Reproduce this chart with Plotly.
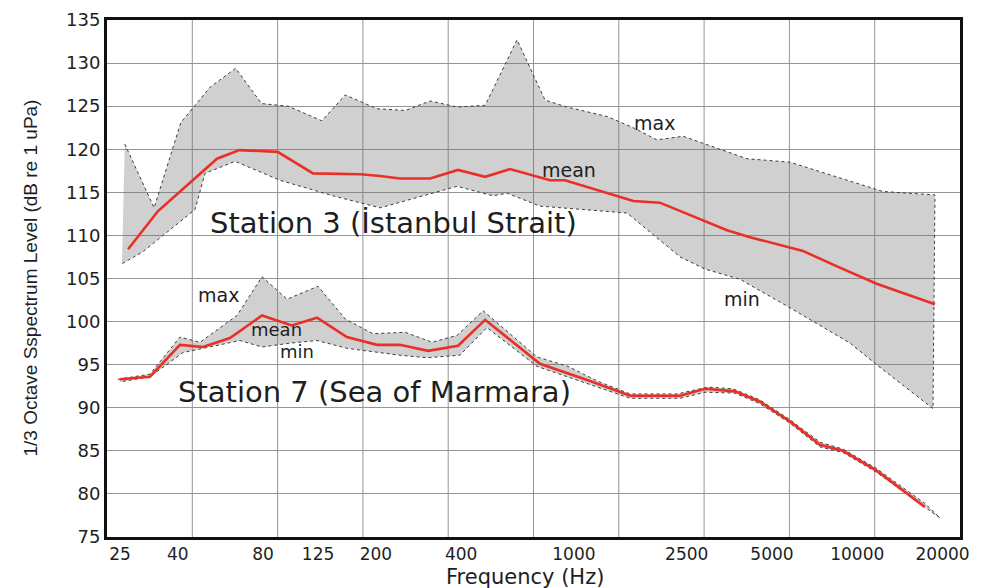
import math
import plotly.graph_objects as go

# ---------------- data ----------------
FREQ_TICKS = [25, 40, 80, 125, 200, 400, 1000, 2500, 5000, 10000, 20000]
LEVEL_TICKS = [75, 80, 85, 90, 95, 100, 105, 110, 115, 120, 125, 130, 135]

# Station 3 (Istanbul Strait)
S3_MAX_F = [26, 33, 41, 52, 64, 79, 98, 129, 156, 202, 254, 311, 387, 486, 630,
            791, 945, 1310, 1620, 1960, 2430, 4080, 5790, 12300, 18800]
S3_MAX_DB = [120.6, 113.2, 123.1, 127.2, 129.4, 125.3, 125.0, 123.3, 126.3, 124.7,
             124.5, 125.6, 124.9, 125.1, 132.7, 125.7, 124.9, 123.8, 122.5, 121.1,
             121.5, 118.9, 118.5, 115.1, 114.7]

S3_MEAN_F = [26.7, 34, 55, 66, 90, 120, 176, 207, 243, 311, 390, 486, 595, 823, 930,
             1620, 2010, 2860, 3470, 4180, 6430, 8480, 11700, 18800]
S3_MEAN_DB = [108.4, 112.8, 118.9, 119.9, 119.7, 117.2, 117.1, 116.9, 116.6, 116.6,
              117.6, 116.8, 117.7, 116.4, 116.4, 114.0, 113.8, 111.7, 110.6, 109.8,
              108.2, 106.4, 104.4, 102.0]

S3_MIN_F = [25.4, 30.1, 46, 49.9, 63.7, 91.8, 108, 141, 207, 243, 271, 387, 518, 581,
            759, 1540, 2370, 2900, 3860, 5790, 9430, 11700, 18500]
S3_MIN_DB = [106.7, 108.1, 113.0, 117.2, 118.6, 116.4, 115.7, 114.6, 113.2, 113.8,
             114.3, 115.7, 114.6, 114.9, 113.4, 112.6, 107.5, 106.1, 104.9, 101.6,
             97.5, 95.0, 89.9]

# Station 7 (Sea of Marmara)
S7_MAX_F = [24.6, 31.9, 40.7, 47.9, 64.7, 79.3, 97.2, 125, 156, 195, 254, 316, 387,
            478, 741, 953, 1210, 1580, 2310, 2970, 3640, 4540, 5790, 7390, 8910,
            11700, 17300]
S7_MAX_DB = [93.3, 93.9, 98.2, 97.6, 100.7, 105.2, 102.6, 104.1, 100.3, 98.6, 98.75,
             97.6, 98.4, 101.25, 95.9, 94.8, 93.1, 91.6, 91.6, 92.4, 92.2, 90.9, 88.6,
             86.0, 85.2, 82.95, 78.9]

S7_MEAN_F = [25, 31.9, 40.7, 49.1, 61.1, 79.3, 101, 124, 158, 202, 243, 306, 390, 486,
             759, 1140, 1580, 2370, 2900, 3700, 4540, 5790, 7390, 8910, 11700, 17300]
S7_MEAN_DB = [93.3, 93.6, 97.3, 97.05, 98.1, 100.7, 99.55, 100.45, 98.2, 97.3, 97.3,
              96.6, 97.2, 100.2, 95.1, 93.1, 91.4, 91.4, 92.2, 91.9, 90.7, 88.4, 85.7,
              85.0, 82.7, 78.5]

S7_MIN_F = [25, 31.9, 41.7, 49.1, 66.3, 79.3, 99.6, 124, 158, 243, 303, 396, 493, 741,
            1140, 1580, 2370, 2900, 3700, 4540, 5790, 7390, 8910, 11700, 19600]
S7_MIN_DB = [93.0, 93.6, 96.4, 96.9, 97.8, 97.05, 97.5, 97.8, 96.9, 96.1, 95.8, 96.1,
             99.3, 94.8, 92.7, 91.1, 91.1, 91.8, 91.7, 90.45, 88.2, 85.45, 84.8, 82.5,
             77.2]

# ---------------- style ----------------
FONT = "DejaVu Sans, Arial, sans-serif"
TXT = "#1e1e1e"
BAND_FILL = "rgba(110,110,110,0.32)"
EDGE = "#3c3c3c"
RED = "#ea2f27"
GRID = "#959595"

fig = go.Figure()

for fmax, dmax, fmin, dmin, fmean, dmean in [
    (S3_MAX_F, S3_MAX_DB, S3_MIN_F, S3_MIN_DB, S3_MEAN_F, S3_MEAN_DB),
    (S7_MAX_F, S7_MAX_DB, S7_MIN_F, S7_MIN_DB, S7_MEAN_F, S7_MEAN_DB),
]:
    fig.add_trace(go.Scatter(
        x=fmax + fmin[::-1], y=dmax + dmin[::-1],
        mode="lines", fill="toself", fillcolor=BAND_FILL,
        line=dict(color=EDGE, width=1, dash="dot"),
        hoverinfo="skip", showlegend=False))
    fig.add_trace(go.Scatter(
        x=fmean, y=dmean, mode="lines",
        line=dict(color=RED, width=2.6),
        showlegend=False))

# vertical octave grid lines
shapes = []
for k in range(1, 10):
    f = 22.5 * 2 ** k
    shapes.append(dict(type="line", xref="x", yref="paper", x0=f, x1=f, y0=0, y1=1,
                       line=dict(color=GRID, width=1), layer="below"))

def ann(text, px, py, size, **kw):
    return dict(text=text, xref="paper", yref="paper",
                x=(px - 107) / 853.0, y=(537 - py) / 528.0,
                xanchor="center", yanchor="middle", showarrow=False,
                font=dict(family=FONT, size=size, color=TXT), **kw)

annotations = [
    ann("Station 3 (İstanbul Strait)", 393.5, 216, 29),
    ann("Station 7 (Sea of Marmara)", 374, 389, 29),
    ann("max", 654, 114.5, 19),
    ann("mean", 569, 161.7, 19),
    ann("min", 741.7, 293.5, 19),
    ann("max", 218, 290, 19),
    ann("mean", 276.5, 325.5, 18),
    ann("min", 296.7, 348, 18),
    ann("Frequency (Hz)", 525, 577.5, 21),
    dict(text="1/3 Octave Sspectrum Level (dB re 1 uPa)", xref="paper", yref="paper",
         x=(30 - 107) / 853.0, y=0.5, xanchor="center", yanchor="middle",
         textangle=-90, showarrow=False,
         font=dict(family="Liberation Sans, Arial, sans-serif", size=19, color=TXT)),
]

fig.update_layout(
    width=1000, height=588,
    margin=dict(l=107, r=40, t=9, b=51),
    paper_bgcolor="white", plot_bgcolor="white",
    shapes=shapes, annotations=annotations,
    showlegend=False,
    xaxis=dict(type="log", range=[math.log10(22.5), math.log10(23040)],
               tickmode="array", tickvals=FREQ_TICKS,
               ticktext=[str(v) for v in FREQ_TICKS],
               showgrid=False, zeroline=False, ticks="",
               showline=True, linecolor="#111111", linewidth=3, mirror=True,
               tickfont=dict(family=FONT, size=17, color=TXT)),
    yaxis=dict(range=[75, 135], tickmode="array", tickvals=LEVEL_TICKS,
               showgrid=True, gridcolor=GRID, gridwidth=1, zeroline=False, ticks="",
               showline=True, linecolor="#111111", linewidth=3, mirror=True,
               tickfont=dict(family=FONT, size=18, color=TXT)),
)

fig.write_html("out.html", config={"displayModeBar": False},
               post_script="document.body.style.margin='0';")
